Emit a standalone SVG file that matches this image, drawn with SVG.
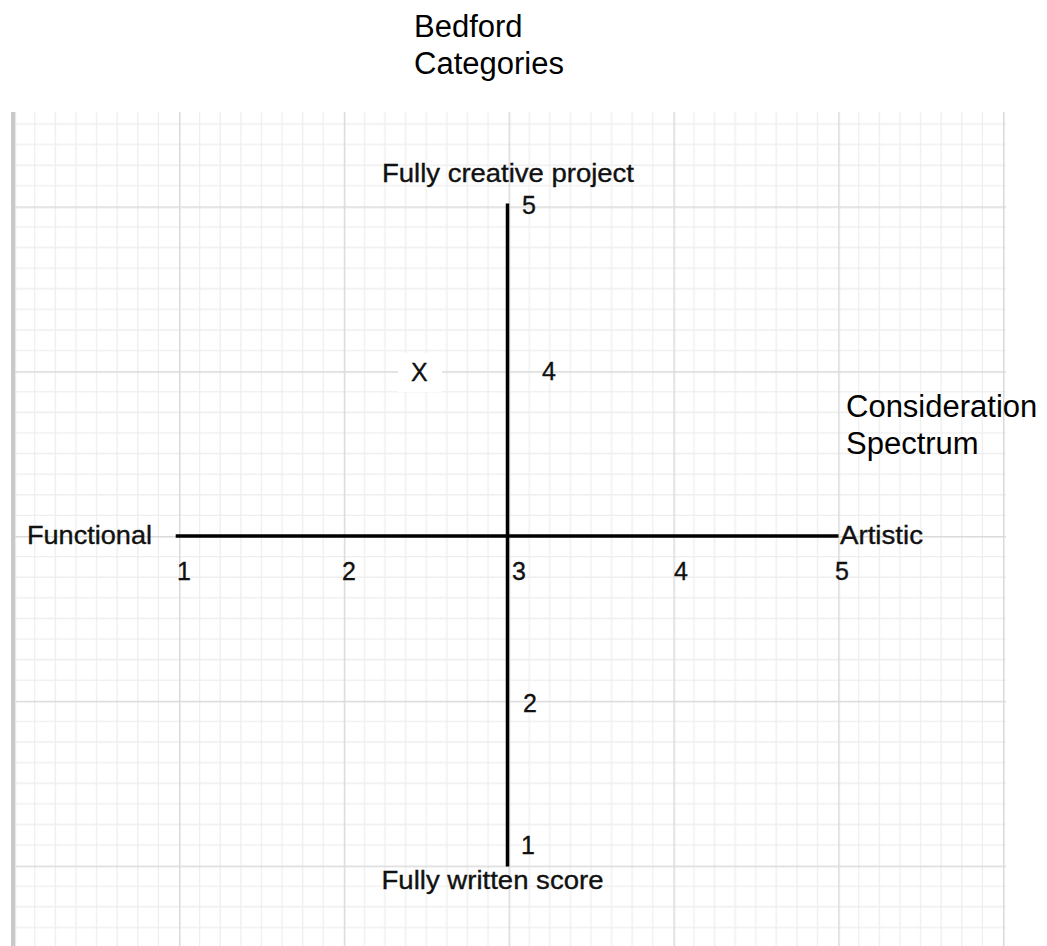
<svg xmlns="http://www.w3.org/2000/svg" width="1047" height="946" viewBox="0 0 1047 946">
  <style>
    .lbl { font-family: "Liberation Sans", Arial, Helvetica, sans-serif; font-size: 25px; fill: #111; stroke: #111; stroke-width: 0.35; }
    .big { font-family: "Liberation Sans", Arial, Helvetica, sans-serif; font-size: 31px; fill: #000; }
    .axis { stroke: #000; stroke-width: 3.5; fill: none; }
    .minor { stroke: #eeeeee; stroke-width: 1.3; }
    .major { stroke: #dadada; stroke-width: 1.5; }
  </style>
  <defs>
    <pattern id="grid" patternUnits="userSpaceOnUse" x="14.2" y="41.6" width="164.8" height="164.8">
      <path class="minor" d="M20.6 0V164.8M41.2 0V164.8M61.8 0V164.8M82.4 0V164.8M103 0V164.8M123.6 0V164.8M144.2 0V164.8M0 20.6H164.8M0 41.2H164.8M0 61.8H164.8M0 82.4H164.8M0 103H164.8M0 123.6H164.8M0 144.2H164.8"/>
      <path class="major" d="M0.75 0V164.8M0 0.75H164.8"/>
    </pattern>
  </defs>
  <rect width="1047" height="946" fill="#ffffff"/>
  <g id="grid-bg">
    <rect x="12" y="112" width="994" height="834" fill="url(#grid)"/>
    <rect x="11" y="112" width="4" height="834" fill="#c9c9c9"/>
  </g>
  <g id="title">
    <text class="big" x="414" y="37">Bedford</text>
    <text class="big" x="414" y="74">Categories</text>
  </g>
  <g id="spectrum">
    <text class="big" x="846" y="417">Consideration</text>
    <text class="big" x="846" y="454">Spectrum</text>
  </g>
  <g id="connectors">
    <line class="axis" x1="507.5" y1="203.5" x2="507.5" y2="866.5"/>
    <line class="axis" x1="175.7" y1="536" x2="838.5" y2="536"/>
  </g>
  <g id="label-top">
    <text class="lbl" x="382" y="182" textLength="252" lengthAdjust="spacingAndGlyphs">Fully creative project</text>
  </g>
  <g id="label-bottom">
    <text class="lbl" x="381.5" y="888.5" textLength="222" lengthAdjust="spacingAndGlyphs">Fully written score</text>
  </g>
  <g id="label-left">
    <text class="lbl" x="27" y="544" textLength="125" lengthAdjust="spacingAndGlyphs">Functional</text>
  </g>
  <g id="label-right">
    <text class="lbl" x="840" y="543.5" textLength="83" lengthAdjust="spacingAndGlyphs">Artistic</text>
  </g>
  <g id="marker-x">
    <rect x="398" y="353" width="44" height="39" fill="#ffffff"/>
    <text class="lbl" x="411" y="381">X</text>
  </g>
  <g id="ticks-h">
    <text class="lbl" x="177" y="580">1</text>
    <text class="lbl" x="342" y="580">2</text>
    <text class="lbl" x="512" y="580">3</text>
    <text class="lbl" x="674" y="580">4</text>
    <text class="lbl" x="835" y="580">5</text>
  </g>
  <g id="ticks-v">
    <text class="lbl" x="521" y="853.5">1</text>
    <text class="lbl" x="523" y="712">2</text>
    <text class="lbl" x="542" y="379.5">4</text>
    <text class="lbl" x="522" y="213.5">5</text>
  </g>
</svg>
